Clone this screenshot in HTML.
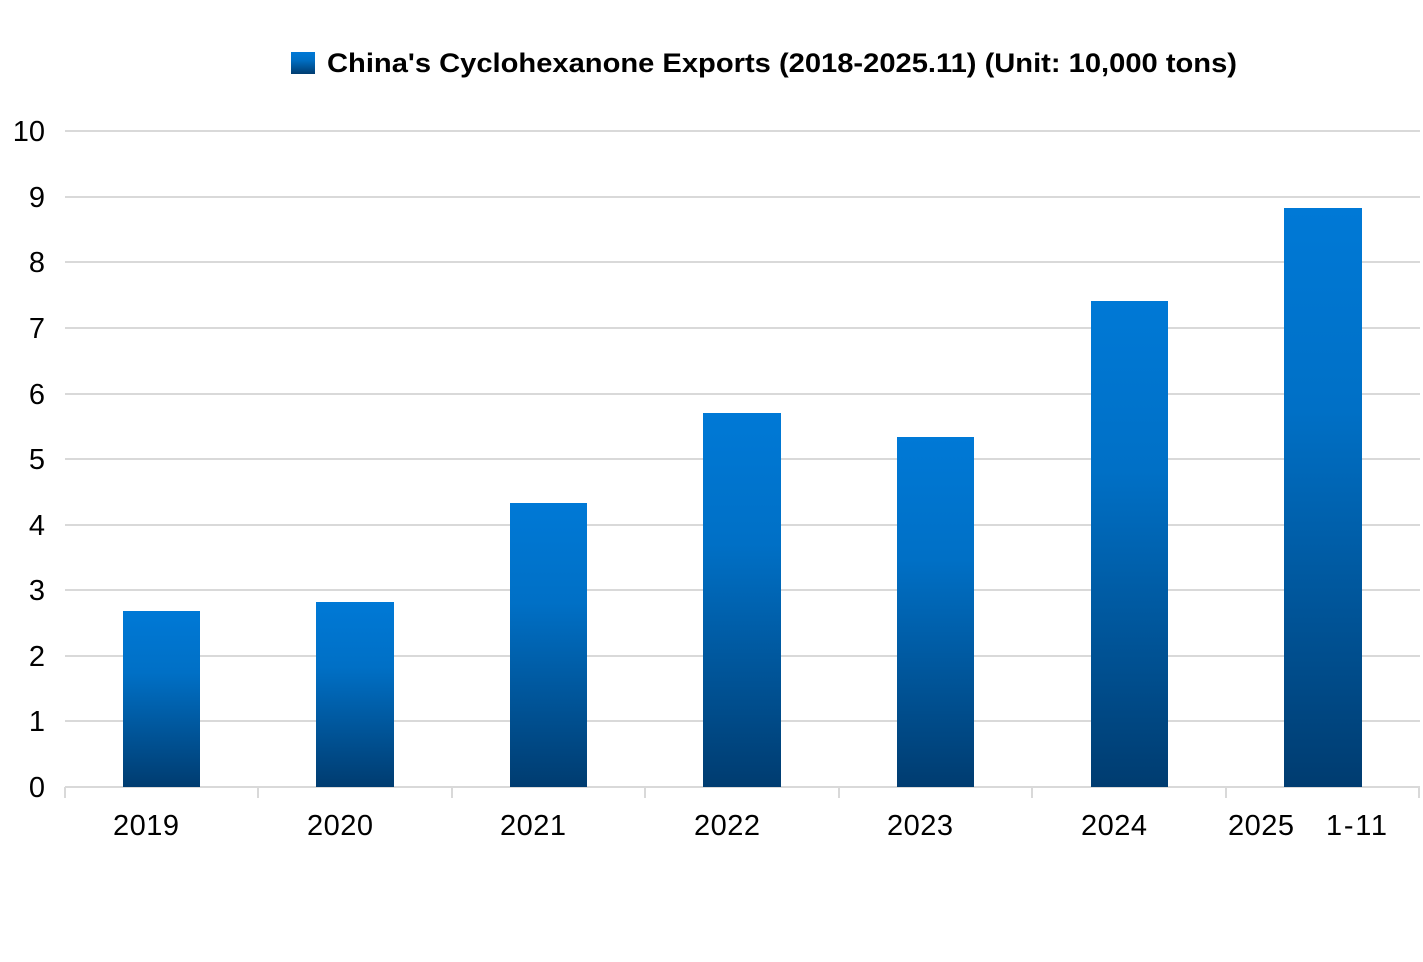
<!DOCTYPE html>
<html><head><meta charset="utf-8"><style>
html,body{margin:0;padding:0;background:#fff;}
</style></head><body>
<svg width="1423" height="957" xmlns="http://www.w3.org/2000/svg" font-family="Liberation Sans, sans-serif">
<defs>
<linearGradient id="g" x1="0" y1="0" x2="0" y2="1">
<stop offset="0" stop-color="#0079d6"/>
<stop offset="0.35" stop-color="#0070c6"/>
<stop offset="1" stop-color="#003c70"/>
</linearGradient>
</defs>
<rect width="1423" height="957" fill="#fff"/>
<g stroke="#d9d9d9" stroke-width="2">
<line x1="65" x2="1420" y1="131" y2="131"/>
<line x1="65" x2="1420" y1="197" y2="197"/>
<line x1="65" x2="1420" y1="262" y2="262"/>
<line x1="65" x2="1420" y1="328" y2="328"/>
<line x1="65" x2="1420" y1="394" y2="394"/>
<line x1="65" x2="1420" y1="459" y2="459"/>
<line x1="65" x2="1420" y1="525" y2="525"/>
<line x1="65" x2="1420" y1="590" y2="590"/>
<line x1="65" x2="1420" y1="656" y2="656"/>
<line x1="65" x2="1420" y1="721" y2="721"/>
<line x1="65" x2="1420" y1="787" y2="787"/>
<line x1="65" x2="65" y1="787" y2="798"/>
<line x1="258" x2="258" y1="787" y2="798"/>
<line x1="452" x2="452" y1="787" y2="798"/>
<line x1="645" x2="645" y1="787" y2="798"/>
<line x1="839" x2="839" y1="787" y2="798"/>
<line x1="1032" x2="1032" y1="787" y2="798"/>
<line x1="1226" x2="1226" y1="787" y2="798"/>
<line x1="1419" x2="1419" y1="787" y2="798"/>
</g>
<g fill="url(#g)">
<rect x="123" y="611" width="77" height="176"/>
<rect x="316" y="602" width="78" height="185"/>
<rect x="510" y="503" width="77" height="284"/>
<rect x="703" y="413" width="78" height="374"/>
<rect x="897" y="437" width="77" height="350"/>
<rect x="1091" y="301" width="77" height="486"/>
<rect x="1284" y="208" width="78" height="579"/>
</g>
<g font-size="29" fill="#000" text-anchor="end">
<text x="45" y="141">10</text>
<text x="45" y="207">9</text>
<text x="45" y="272">8</text>
<text x="45" y="338">7</text>
<text x="45" y="404">6</text>
<text x="45" y="469">5</text>
<text x="45" y="535">4</text>
<text x="45" y="600">3</text>
<text x="45" y="666">2</text>
<text x="45" y="731">1</text>
<text x="45" y="797">0</text>
</g>
<g font-size="29" fill="#000">
<text x="113" y="835" textLength="66">2019</text>
<text x="307" y="835" textLength="66">2020</text>
<text x="500" y="835" textLength="66">2021</text>
<text x="694" y="835" textLength="66">2022</text>
<text x="887" y="835" textLength="66">2023</text>
<text x="1081" y="835" textLength="66">2024</text>
<text x="1228" y="835" textLength="66">2025</text>
<text x="1326" y="835" textLength="61">1-11</text>
</g>
<rect x="291" y="52" width="24" height="22" fill="url(#g)"/>
<text x="327" y="72" font-size="27" font-weight="bold" fill="#000" textLength="910" lengthAdjust="spacingAndGlyphs">China's Cyclohexanone Exports (2018-2025.11) (Unit: 10,000 tons)</text>
</svg>
</body></html>
